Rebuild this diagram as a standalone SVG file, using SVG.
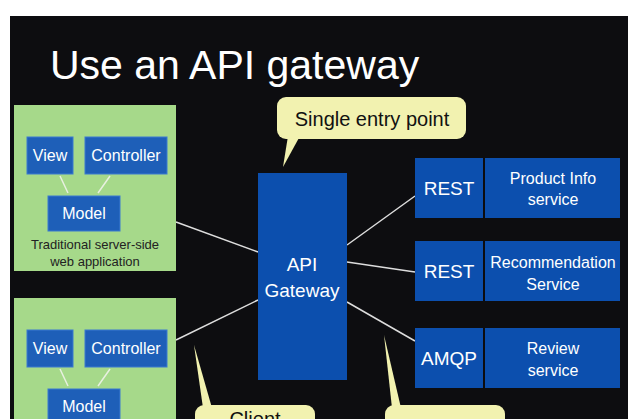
<svg xmlns="http://www.w3.org/2000/svg" width="638" height="419" viewBox="0 0 638 419">
<style>
text{font-family:"Liberation Sans",Arial,sans-serif;fill:#fff}
.g{fill:#a6d98a}
.b{fill:#1e5fb8;stroke:#3a7ad0;stroke-width:1}
.bb{fill:#0c4fae}
.y{fill:#f2f2b0}
.ln{stroke:#ddd;stroke-width:1.5;fill:none}
.s{font-size:16px;text-anchor:middle}
</style>
<rect width="638" height="419" fill="#fff"/>
<rect x="10" y="16" width="618" height="403" fill="#0d0d10"/>
<text x="50" y="79" font-size="41">Use an API gateway</text>
<g id="connectors">
<path class="ln" d="M176 222L258 252M176 340L258 300M347 245L415 196M347 262L415 272M347 302L415 341"/>
<path class="y" d="M194 345L203 408L212 408Z"/>
<path class="y" d="M384 335L392 408L401 408Z"/>
</g>
<g id="web1">
<rect class="g" x="14" y="105" width="162" height="166"/>
<rect class="b" x="27" y="137" width="46" height="37"/><text class="s" x="50" y="161">View</text>
<rect class="b" x="85" y="137" width="82" height="37"/><text class="s" x="126" y="161">Controller</text>
<rect class="b" x="48" y="196" width="72" height="35"/><text class="s" x="84" y="219">Model</text>
<path d="M60 176L68 193M110 176L98 193" stroke="#e8f0e0" stroke-width="1.5"/>
<text x="95" y="249" font-size="13" text-anchor="middle" style="fill:#222">Traditional server-side</text>
<text x="95" y="266" font-size="13" text-anchor="middle" style="fill:#222">web application</text>
</g>
<g id="web2">
<rect class="g" x="14" y="298" width="162" height="121"/>
<rect class="b" x="27" y="330" width="46" height="37"/><text class="s" x="50" y="354">View</text>
<rect class="b" x="85" y="330" width="82" height="37"/><text class="s" x="126" y="354">Controller</text>
<rect class="b" x="48" y="389" width="72" height="35"/><text class="s" x="84" y="412">Model</text>
<path d="M60 369L68 386M110 369L98 386" stroke="#e8f0e0" stroke-width="1.5"/>
</g>
<g id="gateway">
<rect class="bb" x="258" y="173" width="89" height="207"/>
<text x="302" y="271" font-size="19" text-anchor="middle">API</text>
<text x="302" y="297" font-size="19" text-anchor="middle">Gateway</text>
</g>
<g id="bubble1">
<path class="y" d="M288 136L283 167L300 136Z"/>
<rect class="y" x="277" y="97" width="189" height="42" rx="9"/>
<text x="372" y="126" font-size="20" text-anchor="middle" style="fill:#111">Single entry point</text>
</g>
<g id="bubble2"><rect class="y" x="195" y="405" width="120" height="30" rx="9"/><text x="255" y="426" font-size="20" text-anchor="middle" style="fill:#111">Client</text></g>
<g id="bubble3"><rect class="y" x="385" y="405" width="120" height="30" rx="9"/></g>
<g id="svc1"><rect class="bb" x="415" y="158" width="68" height="60"/><rect class="bb" x="485" y="158" width="135" height="60"/>
<text x="449" y="195" font-size="19" text-anchor="middle">REST</text>
<text class="s" x="553" y="184">Product Info</text><text class="s" x="553" y="205">service</text></g>
<g id="svc2"><rect class="bb" x="415" y="241" width="68" height="60"/><rect class="bb" x="485" y="241" width="135" height="60"/>
<text x="449" y="278" font-size="19" text-anchor="middle">REST</text>
<text class="s" x="553" y="268">Recommendation</text><text class="s" x="553" y="290">Service</text></g>
<g id="svc3"><rect class="bb" x="415" y="328" width="68" height="60"/><rect class="bb" x="485" y="328" width="135" height="60"/>
<text x="449" y="365" font-size="19" text-anchor="middle">AMQP</text>
<text class="s" x="553" y="354">Review</text><text class="s" x="553" y="376">service</text></g>
</svg>
